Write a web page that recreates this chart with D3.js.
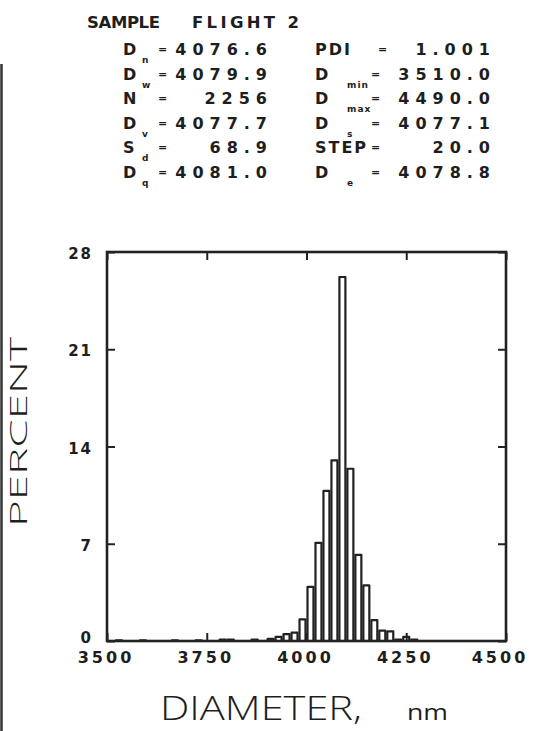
<!DOCTYPE html>
<html>
<head>
<meta charset="utf-8">
<script src="https://cdn.jsdelivr.net/npm/d3@7"></script>
<style>
  html, body { margin: 0; padding: 0; background: #fff; }
  svg { display: block; }
  text { fill: #1e1e1e; }
</style>
</head>
<body>
<svg id="chart" width="534" height="731"></svg>
<script>
// Size distribution histogram, 20 nm bins (bin start diameter, nm)
const binStart = [3520, 3580, 3660, 3720, 3780, 3800, 3860, 3900, 3920, 3940, 3960, 3980,
                  4000, 4020, 4040, 4060, 4080, 4100, 4120, 4140, 4160, 4180, 4200, 4220,
                  4240, 4260];
const percent  = [0.05, 0.05, 0.05, 0.05, 0.1, 0.1, 0.1, 0.15, 0.3, 0.5, 0.6, 1.56,
                  3.9, 7.07, 10.8, 13.0, 26.2, 12.4, 6.2, 4.0, 1.5, 0.75, 0.7, 0.1,
                  0.3, 0.1];
const binWidth = 20;

const xTicks = [3500, 3750, 4000, 4250, 4500];
const yTicks = [0, 7, 14, 21, 28];

const title = ["SAMPLE", "FLIGHT 2"];

// Summary statistics, two columns: symbol, subscript, value
const statsLeftSym  = ["D", "D", "N", "D", "S", "D"];
const statsLeftSub  = ["n", "w", "", "v", "d", "q"];
const statsLeftVal  = ["4076.6", "4079.9", "2256", "4077.7", "68.9", "4081.0"];
const statsRightSym = ["PDI", "D", "D", "D", "STEP", "D"];
const statsRightSub = ["", "min", "max", "s", "", "e"];
const statsRightVal = ["1.001", "3510.0", "4490.0", "4077.1", "20.0", "4078.8"];

const xLabel = ["DIAMETER,", "nm"];
const yLabel = "PERCENT";

const svg = d3.select("#chart");
const ink = "#222";

const frame = { left: 107, right: 506, top: 252, bottom: 641 };

const x = d3.scaleLinear().domain([3500, 4500]).range([frame.left, frame.right]);
const y = d3.scaleLinear().domain([0, 28]).range([frame.bottom, frame.top]);

// scanned page edge on the far left
svg.append("line")
  .attr("x1", 1.5).attr("x2", 1.5).attr("y1", 64).attr("y2", 731)
  .attr("stroke", "#333").attr("stroke-width", 2.5);

// histogram bars (outlined)
const inset = 1;
svg.append("g")
  .selectAll("rect")
  .data(binStart.map((d, i) => ({ d, p: percent[i] })))
  .join("rect")
  .attr("x", v => x(v.d) + inset)
  .attr("width", v => x(v.d + binWidth) - x(v.d) - 2 * inset)
  .attr("y", v => y(v.p))
  .attr("height", v => y(0) - y(v.p))
  .attr("fill", "none")
  .attr("stroke", ink)
  .attr("stroke-width", 2.2)
  .attr("stroke-linejoin", "round");

// inward ticks on all four sides
function styleAxis(g) {
  g.select(".domain").remove();
  g.selectAll(".tick line").attr("stroke", ink).attr("stroke-width", 2);
}

svg.append("g")
  .attr("transform", `translate(0,${frame.bottom})`)
  .call(d3.axisBottom(x).tickValues(xTicks).tickSize(-8).tickFormat(""))
  .call(styleAxis);
svg.append("g")
  .attr("transform", `translate(0,${frame.top})`)
  .call(d3.axisTop(x).tickValues(xTicks).tickSize(-8).tickFormat(""))
  .call(styleAxis);
svg.append("g")
  .attr("transform", `translate(${frame.left},0)`)
  .call(d3.axisLeft(y).tickValues(yTicks).tickSize(-8).tickFormat(""))
  .call(styleAxis);
svg.append("g")
  .attr("transform", `translate(${frame.right},0)`)
  .call(d3.axisRight(y).tickValues(yTicks).tickSize(-8).tickFormat(""))
  .call(styleAxis);

// frame
svg.append("rect")
  .attr("x", frame.left).attr("y", frame.top)
  .attr("width", frame.right - frame.left).attr("height", frame.bottom - frame.top)
  .attr("fill", "none").attr("stroke", ink).attr("stroke-width", 2.6);

const tickFont = "'DejaVu Sans', sans-serif";

// x tick labels (kept inside the page on the right)
svg.append("g")
  .selectAll("text")
  .data(xTicks)
  .join("text")
  .attr("x", d => Math.min(x(d) - 1, 500))
  .attr("y", 663)
  .attr("text-anchor", "middle")
  .style("font-family", tickFont)
  .style("font-weight", "bold")
  .style("font-size", "16px")
  .style("letter-spacing", "3px")
  .text(d => d);

// y tick labels
svg.append("g")
  .selectAll("text")
  .data(yTicks)
  .join("text")
  .attr("x", 93)
  .attr("y", d => y(d) + (d === 0 ? 2 : 7))
  .attr("text-anchor", "end")
  .style("font-family", tickFont)
  .style("font-weight", "bold")
  .style("font-size", "15px")
  .style("letter-spacing", "2px")
  .text(d => d);

// axis titles
const titleFont = "'Open Sans', 'DejaVu Sans', sans-serif";
svg.append("text")
  .attr("transform", "translate(27,432) rotate(-90)")
  .attr("text-anchor", "middle")
  .attr("textLength", 190)
  .attr("lengthAdjust", "spacingAndGlyphs")
  .style("font-family", titleFont)
  .style("font-weight", 300)
  .style("font-size", "24px")
  .text(yLabel);

svg.append("text")
  .attr("x", 160).attr("y", 720)
  .attr("textLength", 202)
  .attr("lengthAdjust", "spacingAndGlyphs")
  .style("font-family", titleFont)
  .style("font-weight", 300)
  .style("font-size", "33px")
  .text(xLabel[0]);
svg.append("text")
  .attr("x", 407).attr("y", 720)
  .attr("textLength", 41)
  .attr("lengthAdjust", "spacingAndGlyphs")
  .style("font-family", titleFont)
  .style("font-weight", 400)
  .style("font-size", "22px")
  .text(xLabel[1]);

// title
const statFont = "'DejaVu Sans', sans-serif";
svg.append("text")
  .attr("x", 87).attr("y", 28)
  .attr("textLength", 73).attr("lengthAdjust", "spacing")
  .style("font-family", statFont).style("font-weight", "bold").style("font-size", "16.5px")
  .text(title[0]);
svg.append("text")
  .attr("x", 192).attr("y", 28)
  .attr("textLength", 107).attr("lengthAdjust", "spacing")
  .style("font-family", statFont).style("font-weight", "bold").style("font-size", "16.5px")
  .text(title[1]);

// statistics block
const rowY = i => 55 + i * 24.5;
function statColumn(syms, subs, vals, symX, subX, eqX, valX, eqShift) {
  const g = svg.append("g")
    .style("font-family", statFont)
    .style("font-weight", "bold");
  syms.forEach((s, i) => {
    const by = rowY(i);
    g.append("text")
      .attr("x", symX).attr("y", by)
      .style("font-size", "16px")
      .style("letter-spacing", s.length > 1 ? "2px" : "0px")
      .text(s);
    if (subs[i]) {
      g.append("text")
        .attr("x", subX).attr("y", by + 8)
        .style("font-size", "9px")
        .style("letter-spacing", "1px")
        .text(subs[i]);
    }
    g.append("text")
      .attr("x", eqX + (eqShift[i] || 0)).attr("y", by - 2)
      .style("font-size", "11px")
      .text("=");
    g.append("text")
      .attr("x", valX + 6).attr("y", by)
      .attr("text-anchor", "end")
      .style("font-size", "16px")
      .style("letter-spacing", "6px")
      .text(vals[i]);
  });
}
statColumn(statsLeftSym, statsLeftSub, statsLeftVal, 123, 142, 158, 267, []);
statColumn(statsRightSym, statsRightSub, statsRightVal, 315, 347, 371, 490, [7]);
</script>
</body>
</html>
